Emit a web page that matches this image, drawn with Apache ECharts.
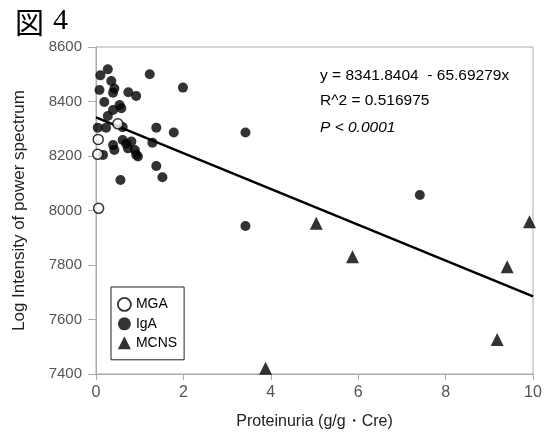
<!DOCTYPE html>
<html>
<head>
<meta charset="utf-8">
<script src="https://cdn.jsdelivr.net/npm/echarts@6/dist/echarts.min.js"></script>
<style>
  html, body { margin: 0; padding: 0; background: #fff; }
  #chart { width: 546px; height: 436px; }
</style>
</head>
<body>
<div id="chart"></div>
<script>
// values: [proteinuria, log intensity]
var mgaData = [[0.05, 8261], [0.04, 8206], [0.06, 8008], [0.50, 8318]];
var igaData = [
    [0.27, 8518], [0.10, 8496], [0.35, 8475], [1.23, 8500], [0.08, 8442], [0.42, 8448],
    [0.39, 8432], [0.74, 8434], [0.92, 8420], [1.99, 8451], [0.19, 8398], [0.54, 8387],
    [0.58, 8375], [0.39, 8369], [0.27, 8347], [0.04, 8304], [0.23, 8304], [0.61, 8306],
    [1.38, 8304], [1.78, 8286], [3.42, 8286], [1.29, 8249], [0.61, 8259], [0.69, 8245],
    [0.81, 8253], [0.39, 8240], [0.42, 8222], [0.73, 8228], [0.89, 8222], [0.92, 8205],
    [0.96, 8198], [0.16, 8204], [1.38, 8163], [1.52, 8122], [0.56, 8112], [3.42, 7943],
    [7.41, 8057]
];
var mcnsData = [[5.04, 7953], [5.87, 7830], [9.18, 7527], [9.41, 7794], [9.92, 7959], [3.88, 7421]];
var fitLine = [[0, 8341.84], [10, 7684.91]];
var statLines = ['y = 8341.8404  - 65.69279x', 'R^2 = 0.516975'];
var pText = 'P < 0.0001';

var myChart = echarts.init(document.getElementById('chart'));

var labelFont = '"Liberation Sans", Arial, sans-serif';

var option = {
    animation: false,
    backgroundColor: '#fff',
    grid: {
        left: 96, right: 13, top: 47, bottom: 62,
        show: true, borderColor: '#aaa', borderWidth: 1
    },
    xAxis: {
        type: 'value', min: 0, max: 10, interval: 2,
        name: 'Proteinuria (g/g・Cre)', nameLocation: 'middle', nameGap: 40,
        nameTextStyle: { fontSize: 16, color: '#222', fontFamily: labelFont },
        axisLine: { lineStyle: { color: '#aaa' } },
        axisTick: { length: 6, lineStyle: { color: '#aaa' } },
        axisLabel: { fontSize: 16, color: '#555', margin: 11, fontFamily: labelFont },
        splitLine: { show: false }
    },
    yAxis: {
        type: 'value', min: 7400, max: 8600, interval: 200,
        name: 'Log Intensity of power spectrum', nameLocation: 'middle', nameGap: 68,
        nameTextStyle: { fontSize: 17, color: '#222', fontFamily: labelFont },
        axisLine: { show: true, lineStyle: { color: '#aaa' } },
        axisTick: { show: true, length: 8, lineStyle: { color: '#aaa' } },
        axisLabel: {
            fontSize: 15, color: '#555', margin: 14, fontFamily: labelFont,
            formatter: function (v) { return String(v); }
        },
        splitLine: { show: false }
    },
    legend: {
        orient: 'vertical', left: 111, top: 287,
        borderColor: '#222', borderWidth: 1, borderRadius: 0,
        padding: [10, 7, 10, 6], itemGap: 5, itemWidth: 13, itemHeight: 13,
        textStyle: { fontSize: 14, color: '#000', fontFamily: labelFont },
        data: [
            { name: 'MGA', icon: 'circle', itemStyle: { color: '#fff', borderColor: '#000', borderWidth: 1.8 } },
            { name: 'IgA', icon: 'circle' },
            { name: 'MCNS', icon: 'triangle' }
        ]
    },
    graphic: [
        { type: 'text', left: 15, top: 8, style: { text: '図', fontSize: 29, fill: '#000', fontFamily: '"Noto Sans CJK JP", sans-serif' } },
        { type: 'text', left: 53, top: 6, style: { text: '4', fontSize: 30, fill: '#000', fontFamily: '"Liberation Serif", serif' } },
        { type: 'text', left: 320, top: 68, style: { text: statLines[0], fontSize: 15.5, fill: '#000', fontFamily: labelFont } },
        { type: 'text', left: 320, top: 93, style: { text: statLines[1], fontSize: 15.5, fill: '#000', fontFamily: labelFont } },
        { type: 'text', left: 320, top: 120, style: { text: pText, fontSize: 15.5, fontStyle: 'italic', fill: '#000', fontFamily: labelFont } }
    ],
    series: [
        {
            name: 'fit', type: 'line', data: fitLine, symbol: 'none', silent: true,
            lineStyle: { color: '#000', width: 2.5 }, z: 1
        },
        {
            name: 'MGA', type: 'scatter', data: mgaData, symbol: 'circle', symbolSize: 10,
            itemStyle: { color: '#fff', borderColor: '#000', borderWidth: 1.5 }, z: 3
        },
        {
            name: 'IgA', type: 'scatter', data: igaData, symbol: 'circle', symbolSize: 10,
            itemStyle: { color: '#000' }, z: 2
        },
        {
            name: 'MCNS', type: 'scatter', data: mcnsData, symbol: 'triangle', symbolSize: 13,
            itemStyle: { color: '#000' }, z: 2
        }
    ]
};

myChart.setOption(option);
</script>
</body>
</html>
